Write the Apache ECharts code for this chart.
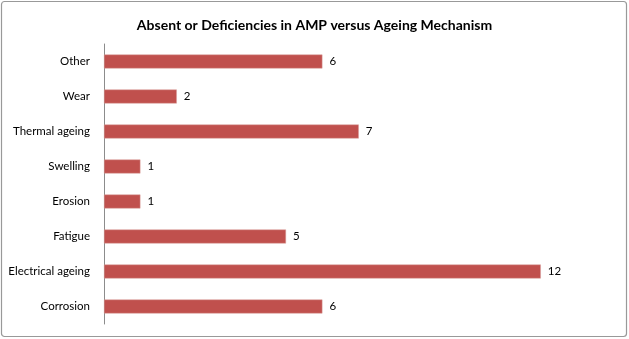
<!DOCTYPE html>
<html>
<head>
<meta charset="utf-8">
<script src="https://cdn.jsdelivr.net/npm/echarts@6/dist/echarts.min.js"></script>
<style>
  html, body { margin: 0; padding: 0; background: #fff; }
  #chart { width: 629px; height: 339px; }
</style>
</head>
<body>
<div id="chart"></div>
<script>
// Ageing mechanisms, listed bottom to top as drawn on the category axis
const mechanisms = ['Corrosion', 'Electrical ageing', 'Fatigue', 'Erosion', 'Swelling', 'Thermal ageing', 'Wear', 'Other'];
// Number of absent or deficient AMPs per mechanism
const counts = [6, 12, 5, 1, 1, 7, 2, 6];

const chart = echarts.init(document.getElementById('chart'), null, { renderer: 'canvas' });
const font = 'Lato, "Open Sans", sans-serif';

chart.setOption({
  animation: false,
  title: {
    text: 'Absent or Deficiencies in AMP versus Ageing Mechanism',
    left: 'center',
    top: 13,
    textStyle: { fontFamily: font, fontSize: 14, fontWeight: 'bold', color: '#000' }
  },
  graphic: [{
    type: 'rect',
    shape: { x: 1.5, y: 1.5, width: 625, height: 335, r: 3 },
    style: { fill: 'none', stroke: '#999', lineWidth: 1.2 },
    silent: true
  }],
  grid: { left: 104, top: 44, width: 509.6, height: 280 },
  xAxis: {
    type: 'value',
    min: 0,
    max: 14,
    axisLine: { show: false },
    axisTick: { show: false },
    axisLabel: { show: false },
    splitLine: { show: false }
  },
  yAxis: {
    type: 'category',
    data: mechanisms,
    axisLine: { show: true, lineStyle: { color: '#8c8c8c', width: 1 } },
    axisTick: { show: false },
    axisLabel: { fontFamily: font, fontSize: 11.5, color: '#000', margin: 14 }
  },
  series: [{
    type: 'bar',
    data: counts,
    barWidth: 14,
    itemStyle: { color: '#C0504D', borderColor: '#d9a09e', borderWidth: 0.5 },
    label: {
      show: true,
      position: 'right',
      distance: 7,
      fontFamily: font,
      fontSize: 11.5,
      color: '#000'
    }
  }]
});
</script>
</body>
</html>
